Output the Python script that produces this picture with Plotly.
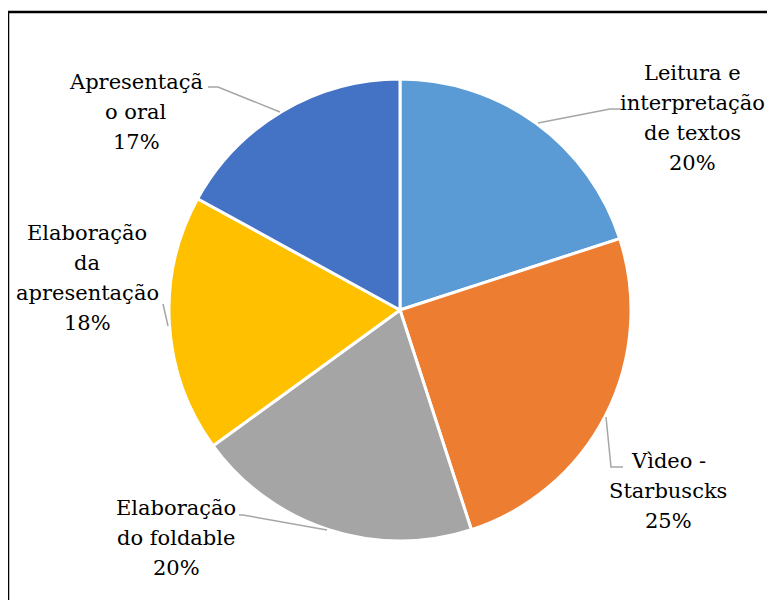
import plotly.graph_objects as go

# dados do gráfico
categorias = ["Leitura e interpretação de textos", "Vìdeo - Starbuscks",
              "Elaboração do foldable", "Elaboração da apresentação",
              "Apresentação oral"]
valores = [20, 25, 20, 18, 17]
cores = ["#5B9BD5", "#ED7D31", "#A5A5A5", "#FFC000", "#4472C4"]

# quebras de linha dos rótulos (como no original)
rotulos_linhas = [
    ["Leitura e", "interpretação", "de textos"],
    ["Vìdeo -", "Starbuscks"],
    ["Elaboração", "do foldable"],
    ["Elaboração", "da", "apresentação"],
    ["Apresentaçã", "o oral"],
]

W, H = 775, 600
OFF = 8  # margem do body da página
px = lambda x: (x - OFF) / W
py = lambda y: 1 - (y - OFF) / H

# posição dos rótulos em pixels (centro x, y da primeira linha)
pos_rotulos = [(692, 73), (668, 461), (176, 508), (87, 233), (136, 82)]
ESPACO = 30

# linhas de chamada (pixels)
chamadas = [
    [(538, 123), (610, 109), (621, 109)],
    [(606, 417), (611, 467), (623, 467)],
    [(327, 530), (243, 515), (239, 515)],
    [(168, 326), (163, 304)],
    [(280, 112), (218, 87), (208, 87)],
]

# única serifada disponível no ambiente
FONTE = "DejaVu Serif"

fig = go.Figure()

fig.add_trace(go.Pie(
    labels=categorias,
    values=valores,
    marker=dict(colors=cores, line=dict(color="white", width=3)),
    sort=False,
    direction="clockwise",
    rotation=0,
    textinfo="none",
    hoverinfo="label+percent",
    showlegend=False,
    domain=dict(x=[px(169), px(631)], y=[py(541), py(79)]),
))

total = sum(valores)
anotacoes = []
for linhas, v, (cx, cy) in zip(rotulos_linhas, valores, pos_rotulos):
    todas = linhas + [f"{round(100 * v / total)}%"]
    for i, t in enumerate(todas):
        anotacoes.append(dict(
            x=px(cx), y=py(cy + i * ESPACO), xref="paper", yref="paper",
            text=t, showarrow=False, xanchor="center", yanchor="middle",
            font=dict(family=FONTE, size=21, color="black"),
        ))

formas = []
for pts in chamadas:
    caminho = "M " + " L ".join(f"{px(x)},{py(y)}" for x, y in pts)
    formas.append(dict(type="path", xref="paper", yref="paper", path=caminho,
                       line=dict(color="#A6A6A6", width=1.5)))

# moldura
formas.append(dict(type="rect", xref="paper", yref="paper",
                   x0=px(8), y0=-0.1, x1=1.1, y1=py(12),
                   line=dict(color="black", width=2.5)))

fig.update_layout(
    width=W, height=H,
    margin=dict(l=0, r=0, t=0, b=0),
    paper_bgcolor="white", plot_bgcolor="white",
    font=dict(family=FONTE),
    annotations=anotacoes,
    shapes=formas,
)

fig.write_html("out.html")
